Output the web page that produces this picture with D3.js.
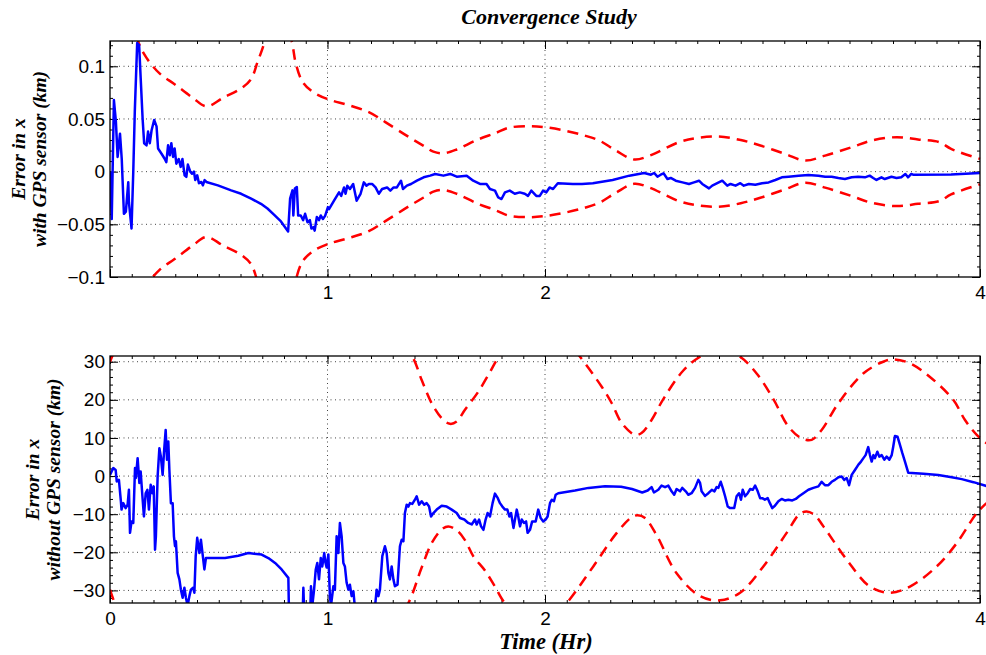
<!DOCTYPE html>
<html>
<head>
<meta charset="utf-8">
<script src="https://cdn.jsdelivr.net/npm/d3@7"></script>
<style>
  body { margin: 0; background: #fff; }
  .tick text { font-family: 'Liberation Sans', Arial, sans-serif; font-size: 19px; fill: #000; }
  .tick line { stroke: #000; }
  .lbl { font-family: 'Liberation Serif', 'Times New Roman', serif; font-weight: bold; font-style: italic; fill: #000; }
</style>
</head>
<body>
<svg id="chart" width="986" height="655"></svg>
<script>
// ---- data: [time (hr), value] ----
const xTicks = [0, 1, 2, 4]
const topYTicks = [-0.1, -0.05, 0, 0.05, 0.1]
const topYLabels = ['\u22120.1', '\u22120.05', '0', '0.05', '0.1']
const botYTicks = [-30, -20, -10, 0, 10, 20, 30]
const botYLabels = ['\u221230', '\u221220', '\u221210', '0', '10', '20', '30']

// error in x with GPS sensor (km)
const topError = [
  [0.000, 0.000], [0.008, -0.045], [0.018, 0.068], [0.027, 0.048], [0.035, 0.014], [0.046, 0.036],
  [0.054, 0.012], [0.064, -0.040], [0.073, -0.038], [0.084, -0.010], [0.087, -0.029], [0.099, -0.054],
  [0.107, 0.000], [0.114, 0.057], [0.125, 0.122], [0.134, 0.120], [0.141, 0.089], [0.150, 0.050],
  [0.157, 0.027], [0.168, 0.025], [0.175, 0.038], [0.183, 0.027], [0.191, 0.039], [0.203, 0.049],
  [0.214, 0.043], [0.221, 0.022], [0.237, 0.017], [0.252, 0.012], [0.259, 0.009], [0.267, 0.025],
  [0.275, 0.0155], [0.282, 0.027], [0.290, 0.014], [0.297, 0.022], [0.305, 0.0076], [0.316, 0.012],
  [0.325, 0.0045], [0.333, 0.012], [0.343, -0.0035], [0.351, -0.005], [0.358, 0.0067], [0.369, 0.000],
  [0.377, -0.002], [0.386, 0.000], [0.392, -0.008], [0.401, -0.0035], [0.409, -0.011], [0.420, -0.0098],
  [0.427, -0.013], [0.435, -0.008], [0.443, -0.0098], [0.496, -0.013], [0.557, -0.0178], [0.603, -0.021],
  [0.649, -0.0257], [0.694, -0.0305], [0.724, -0.035], [0.755, -0.041], [0.786, -0.0473], [0.819, -0.0568],
  [0.828, -0.0257], [0.839, -0.0178], [0.843, -0.0416], [0.850, -0.016], [0.859, -0.0146], [0.865, -0.0416],
  [0.877, -0.0416], [0.888, -0.046], [0.897, -0.040], [0.908, -0.048], [0.919, -0.046], [0.926, -0.054],
  [0.935, -0.0527], [0.941, -0.056], [0.951, -0.043], [0.961, -0.046], [0.969, -0.0416], [0.979, -0.045],
  [0.989, -0.042], [1.002, -0.0337], [1.007, -0.0356], [1.030, -0.0276], [1.053, -0.0197], [1.063, -0.023],
  [1.076, -0.015], [1.083, -0.021], [1.091, -0.0133], [1.103, -0.0165], [1.118, -0.0117], [1.134, -0.0276],
  [1.152, -0.021], [1.167, -0.0102], [1.179, -0.0133], [1.190, -0.0117], [1.205, -0.0117], [1.221, -0.015],
  [1.236, -0.021], [1.251, -0.0165], [1.274, -0.015], [1.289, -0.018], [1.304, -0.015], [1.319, -0.015],
  [1.338, -0.0086], [1.347, -0.0165], [1.365, -0.0133], [1.384, -0.0117], [1.411, -0.0086], [1.442, -0.0054],
  [1.472, -0.0038], [1.495, -0.0022], [1.533, -0.0038], [1.564, -0.0022], [1.594, -0.0048], [1.640, -0.0038],
  [1.670, -0.0086], [1.701, -0.0117], [1.731, -0.0117], [1.747, -0.0165], [1.770, -0.018], [1.785, -0.0245],
  [1.800, -0.026], [1.816, -0.0197], [1.838, -0.018], [1.861, -0.021], [1.884, -0.0197], [1.907, -0.021],
  [1.922, -0.023], [1.937, -0.018], [1.960, -0.023], [1.976, -0.023], [1.991, -0.018], [2.006, -0.0197],
  [2.021, -0.015], [2.037, -0.0165], [2.059, -0.011], [2.128, -0.0117], [2.170, -0.0117], [2.220, -0.011],
  [2.311, -0.0079], [2.388, -0.0038], [2.456, -0.0013], [2.487, -0.0029], [2.502, -0.0013], [2.517, -0.0048],
  [2.532, -0.0029], [2.545, -0.0016], [2.563, -0.007], [2.578, -0.006], [2.601, -0.0086], [2.632, -0.0102],
  [2.662, -0.0117], [2.685, -0.0102], [2.708, -0.0086], [2.723, -0.0117], [2.754, -0.0159], [2.769, -0.0133],
  [2.792, -0.011], [2.815, -0.0086], [2.838, -0.0133], [2.853, -0.0117], [2.876, -0.0133], [2.898, -0.011],
  [2.914, -0.0133], [2.937, -0.0117], [2.967, -0.0124], [2.998, -0.011], [3.028, -0.0102], [3.059, -0.0079],
  [3.089, -0.0054], [3.120, -0.0048], [3.166, -0.0038], [3.211, -0.0032], [3.257, -0.0038], [3.288, -0.0048],
  [3.318, -0.0048], [3.349, -0.006], [3.379, -0.007], [3.410, -0.0054], [3.440, -0.0048], [3.471, -0.0054],
  [3.493, -0.0038], [3.509, -0.006], [3.524, -0.0079], [3.547, -0.0054], [3.562, -0.007], [3.593, -0.0048],
  [3.616, -0.006], [3.638, -0.0054], [3.657, -0.0022], [3.669, -0.0054], [3.684, -0.0022], [3.692, -0.0029],
  [3.867, -0.0026], [4.000, -0.0012]
]

// 3-sigma bound with GPS (drawn as +/-)
const topBound = [
  [0.08, 0.18], [0.130, 0.1235], [0.168, 0.108], [0.229, 0.093], [0.297, 0.083], [0.381, 0.070],
  [0.443, 0.062], [0.519, 0.070], [0.603, 0.079], [0.649, 0.088], [0.679, 0.1045], [0.706, 0.120],
  [0.77, 0.17], [0.836, 0.1235], [0.854, 0.103], [0.885, 0.0854], [0.930, 0.076], [0.998, 0.069],
  [1.098, 0.063], [1.190, 0.0565], [1.266, 0.047], [1.373, 0.033], [1.442, 0.0245], [1.487, 0.019],
  [1.533, 0.0174], [1.594, 0.021], [1.686, 0.030], [1.777, 0.037], [1.831, 0.0416], [1.922, 0.0432],
  [1.999, 0.0422], [2.090, 0.039], [2.182, 0.0343], [2.250, 0.0295], [2.326, 0.020], [2.410, 0.0115],
  [2.479, 0.015], [2.616, 0.028], [2.700, 0.032], [2.799, 0.0333], [2.900, 0.030], [2.990, 0.0248],
  [3.104, 0.0168], [3.196, 0.0105], [3.288, 0.0152], [3.410, 0.0232], [3.501, 0.0295], [3.616, 0.0327],
  [3.715, 0.0305], [3.814, 0.0279], [3.867, 0.0216], [4.000, 0.0121]
]

// error in x without GPS sensor (km)
const botError = [
  [0.000, 0.3], [0.015, 2.1], [0.026, 1.6], [0.031, -1.4], [0.041, -1.0], [0.050, -6.6], [0.053, -8.8],
  [0.061, -7.1], [0.072, -8.4], [0.081, -7.5], [0.087, -3.6], [0.092, -14.9], [0.099, -11.9], [0.107, -12.3],
  [0.115, 2.1], [0.119, -0.5], [0.127, 4.7], [0.135, -1.8], [0.141, 1.2], [0.149, -5.3], [0.156, -10.6],
  [0.164, -4.5], [0.172, -3.6], [0.179, -8.8], [0.187, -2.3], [0.195, -4.5], [0.201, -2.7], [0.207, -19.3],
  [0.211, -15.8], [0.219, -0.1], [0.227, 7.3], [0.234, 5.1], [0.242, 0.3], [0.248, 6.0], [0.256, 12.1],
  [0.262, 4.3], [0.268, 9.1], [0.273, 1.6], [0.280, -7.1], [0.288, -7.1], [0.294, -15.8], [0.299, -18.4],
  [0.303, -17.1], [0.311, -25.4], [0.319, -27.1], [0.326, -29.8], [0.334, -31.9], [0.342, -29.3],
  [0.349, -31.9], [0.357, -34.0], [0.365, -31.5], [0.372, -29.8], [0.382, -29.3], [0.388, -30.6],
  [0.394, -21.0], [0.401, -16.2], [0.411, -20.2], [0.418, -16.7], [0.426, -20.6], [0.434, -24.5],
  [0.441, -21.5], [0.483, -21.5], [0.529, -21.5], [0.590, -20.9], [0.636, -20.2], [0.697, -20.6],
  [0.728, -21.5], [0.759, -22.8], [0.789, -24.5], [0.820, -26.7], [0.823, -36.0], [0.860, -40.0],
  [0.886, -36.0], [0.889, -29.3], [0.893, -36.0], [0.915, -38.0], [0.921, -35.0], [0.924, -28.9],
  [0.930, -34.0], [0.938, -30.0], [0.946, -24.5], [0.953, -22.8], [0.961, -27.1], [0.969, -21.5],
  [0.976, -23.7], [0.985, -20.2], [0.991, -22.8], [0.996, -24.0], [1.004, -20.6], [1.011, -31.5],
  [1.016, -34.0], [1.027, -28.9], [1.034, -29.8], [1.042, -15.8], [1.050, -20.2], [1.057, -12.3],
  [1.065, -15.8], [1.073, -22.8], [1.080, -23.7], [1.088, -28.0], [1.096, -29.8], [1.103, -28.5],
  [1.111, -31.5], [1.119, -30.2], [1.126, -34.5], [1.170, -40.0], [1.218, -34.5], [1.226, -29.8],
  [1.234, -31.5], [1.241, -29.8], [1.252, -21.0], [1.264, -18.4], [1.272, -20.2], [1.280, -25.4],
  [1.287, -27.1], [1.295, -23.7], [1.303, -27.1], [1.310, -28.9], [1.322, -28.5], [1.333, -18.4],
  [1.341, -16.7], [1.349, -17.1], [1.356, -9.7], [1.364, -7.5], [1.372, -8.0], [1.379, -7.1], [1.390, -7.3],
  [1.402, -6.2], [1.410, -5.3], [1.421, -7.5], [1.433, -6.6], [1.445, -7.5], [1.456, -7.1], [1.467, -8.0],
  [1.476, -10.6], [1.487, -9.7], [1.502, -8.8], [1.525, -7.8], [1.548, -8.0], [1.571, -8.8], [1.594, -9.7],
  [1.609, -11.0], [1.629, -11.4], [1.647, -12.3], [1.663, -12.7], [1.678, -11.4], [1.686, -12.7],
  [1.697, -11.4], [1.706, -13.2], [1.717, -14.1], [1.727, -11.4], [1.736, -9.7], [1.747, -10.6],
  [1.759, -7.1], [1.770, -4.6], [1.783, -5.8], [1.793, -7.1], [1.804, -8.0], [1.816, -8.8], [1.827, -8.8],
  [1.836, -10.6], [1.844, -9.7], [1.855, -13.6], [1.862, -11.4], [1.870, -8.8], [1.877, -10.6],
  [1.885, -13.2], [1.893, -11.4], [1.903, -12.3], [1.913, -11.9], [1.920, -14.9], [1.931, -14.1],
  [1.941, -11.9], [1.957, -11.9], [1.969, -8.8], [1.980, -11.0], [1.992, -11.9], [2.003, -11.4],
  [2.012, -10.6], [2.023, -7.1], [2.031, -6.2], [2.041, -6.6], [2.049, -4.9], [2.061, -4.5], [2.138, -3.8],
  [2.200, -3.1], [2.276, -2.7], [2.350, -2.8], [2.400, -3.4], [2.447, -4.3], [2.472, -3.8], [2.490, -2.9],
  [2.501, -4.3], [2.521, -3.6], [2.536, -2.5], [2.552, -2.9], [2.567, -2.5], [2.582, -4.0], [2.594, -4.9],
  [2.605, -3.4], [2.621, -4.0], [2.631, -3.1], [2.647, -4.0], [2.659, -4.9], [2.674, -4.5], [2.690, -3.1],
  [2.705, -1.0], [2.713, -1.8], [2.720, -4.0], [2.736, -5.2], [2.751, -4.5], [2.767, -3.6], [2.779, -4.0],
  [2.789, -2.9], [2.797, -3.1], [2.808, -1.5], [2.817, -3.1], [2.828, -5.3], [2.840, -8.0], [2.851, -8.4],
  [2.870, -8.4], [2.881, -5.3], [2.892, -4.5], [2.901, -6.2], [2.909, -3.6], [2.920, -5.3], [2.932, -4.5],
  [2.943, -3.4], [2.955, -3.6], [2.966, -2.5], [2.978, -4.0], [2.989, -5.8], [2.999, -5.8], [3.011, -6.2],
  [3.024, -5.8], [3.034, -7.1], [3.045, -8.4], [3.057, -7.8], [3.073, -6.6], [3.088, -6.0], [3.103, -6.4],
  [3.119, -6.2], [3.137, -6.4], [3.153, -6.0], [3.168, -5.3], [3.188, -4.5], [3.211, -3.6], [3.234, -3.1],
  [3.257, -2.7], [3.272, -1.5], [3.287, -2.4], [3.303, -2.4], [3.318, -1.5], [3.333, -1.0], [3.349, -0.3],
  [3.364, -0.1], [3.376, -1.0], [3.387, -0.5], [3.398, -2.4], [3.410, 0.3], [3.425, 1.6], [3.441, 3.0],
  [3.453, 3.8], [3.464, 4.7], [3.474, 5.5], [3.486, 7.6], [3.494, 5.5], [3.502, 3.8], [3.510, 5.5],
  [3.517, 4.7], [3.528, 6.4], [3.537, 5.1], [3.548, 5.5], [3.560, 4.3], [3.571, 5.1], [3.583, 4.3],
  [3.594, 5.5], [3.601, 7.7], [3.609, 10.5], [3.621, 10.3], [3.632, 8.2], [3.643, 6.0], [3.655, 3.8],
  [3.670, 0.9], [3.740, 0.6], [3.808, 0.3], [3.870, -0.3], [3.916, -0.8], [3.970, -1.6], [4.030, -2.6]
]

// 3-sigma bounds without GPS
const botUpper = [
  [0.000, 30.0], [0.010, 31.4], [0.040, 36.0], [0.200, 55.0], [0.600, 70.0], [1.000, 60.0], [1.250, 42.0],
  [1.330, 35.0], [1.390, 31.3], [1.433, 25.2], [1.479, 19.1], [1.525, 15.2], [1.563, 13.7], [1.594, 14.3],
  [1.632, 17.4], [1.693, 22.1], [1.747, 27.3], [1.785, 31.0], [1.850, 35.0], [1.970, 38.0], [2.100, 35.5],
  [2.161, 31.3], [2.260, 23.5], [2.307, 19.1], [2.353, 13.9], [2.414, 10.8], [2.444, 11.3], [2.490, 14.7],
  [2.544, 20.2], [2.636, 27.7], [2.713, 31.3], [2.805, 33.5], [2.897, 31.3], [2.973, 26.9], [3.050, 20.2],
  [3.119, 13.0], [3.180, 9.9], [3.226, 9.5], [3.272, 12.1], [3.349, 19.1], [3.463, 26.9], [3.555, 30.0],
  [3.601, 30.6], [3.678, 29.6], [3.770, 26.0], [3.877, 20.0], [3.931, 14.7], [3.985, 10.8], [4.030, 8.6]
]
const botLower = [
  [0.000, -29.8], [0.010, -31.5], [0.040, -36.0], [0.200, -55.0], [0.600, -70.0], [1.000, -60.0],
  [1.250, -42.0], [1.330, -36.5], [1.372, -33.3], [1.433, -24.0], [1.479, -17.6], [1.525, -14.0],
  [1.555, -13.2], [1.594, -14.2], [1.632, -16.8], [1.670, -21.0], [1.724, -24.8], [1.770, -29.0],
  [1.816, -33.3], [1.900, -37.0], [1.980, -38.0], [2.050, -36.0], [2.100, -33.3], [2.222, -23.7],
  [2.330, -14.9], [2.398, -10.8], [2.425, -10.3], [2.460, -11.0], [2.513, -15.5], [2.605, -25.5],
  [2.713, -31.5], [2.805, -32.6], [2.897, -30.6], [3.004, -23.7], [3.111, -14.9], [3.170, -10.0],
  [3.203, -9.3], [3.240, -10.2], [3.280, -13.2], [3.387, -21.9], [3.494, -29.0], [3.586, -30.6],
  [3.678, -29.0], [3.801, -23.7], [3.893, -17.6], [3.985, -9.7], [4.030, -7.1]
]

const svg = d3.select('#chart')
const defs = svg.append('defs')

function drawPanel(opt){
  const { x, y, id } = opt
  const [x0, x1] = x.range()
  const [y1, y0] = y.range()
  const g = svg.append('g')

  defs.append('clipPath').attr('id', id)
    .append('rect')
    .attr('x', x0).attr('y', y0)
    .attr('width', 986 - x0).attr('height', y1 - y0)

  // dotted grid
  g.append('g').selectAll('line')
    .data(opt.yTicks.filter(d => y(d) > y0 + 1 && y(d) < y1 - 1))
    .join('line')
    .attr('x1', x0).attr('x2', x1)
    .attr('y1', d => y(d)).attr('y2', d => y(d))
    .attr('stroke', '#444').attr('stroke-width', 1).attr('stroke-dasharray', '1,3.5')
  g.append('g').selectAll('line')
    .data(xTicks.filter(d => x(d) > x0 + 1 && x(d) < x1 - 1))
    .join('line')
    .attr('x1', d => x(d)).attr('x2', d => x(d))
    .attr('y1', y0).attr('y2', y1)
    .attr('stroke', '#444').attr('stroke-width', 1).attr('stroke-dasharray', '1,3.5')

  // ticks on all four sides, pointing in
  const noDomain = a => a.select('.domain').remove()
  g.append('g').attr('transform', `translate(${x0},0)`)
    .call(d3.axisLeft(y).tickValues(opt.yTicks).tickSize(-8).tickPadding(5)
      .tickFormat((d, i) => opt.yLabels[i]))
    .call(noDomain)
  g.append('g').attr('transform', `translate(${x1},0)`)
    .call(d3.axisRight(y).tickValues(opt.yTicks).tickSize(-8).tickFormat(''))
    .call(noDomain)
  g.append('g').attr('transform', `translate(0,${y1})`)
    .call(d3.axisBottom(x).tickValues(xTicks).tickSize(-8).tickPadding(9)
      .tickFormat(d => (opt.hideZero && d === 0) ? '' : d))
    .call(noDomain)
  g.append('g').attr('transform', `translate(0,${y0})`)
    .call(d3.axisTop(x).tickValues(xTicks).tickSize(-8).tickFormat(''))
    .call(noDomain)

  // minor ticks
  const yMinorVals = d3.range(Math.ceil(y.domain()[0] / opt.yMinorStep), Math.floor(y.domain()[1] / opt.yMinorStep) + 1)
    .map(k => k * opt.yMinorStep)
  const xMinorVals = d3.range(0, 41).map(k => k * 0.1)
  g.append('g').attr('transform', `translate(${x0},0)`)
    .call(d3.axisLeft(y).tickValues(yMinorVals).tickSize(-3).tickFormat('')).call(noDomain)
  g.append('g').attr('transform', `translate(${x1},0)`)
    .call(d3.axisRight(y).tickValues(yMinorVals).tickSize(-3).tickFormat('')).call(noDomain)
  g.append('g').attr('transform', `translate(0,${y1})`)
    .call(d3.axisBottom(x).tickValues(xMinorVals).tickSize(-3).tickFormat('')).call(noDomain)
  g.append('g').attr('transform', `translate(0,${y0})`)
    .call(d3.axisTop(x).tickValues(xMinorVals).tickSize(-3).tickFormat('')).call(noDomain)

  // series
  const plot = g.append('g').attr('clip-path', `url(#${id})`)
  const bound = d3.line().x(d => x(d[0])).y(d => y(d[1])).curve(d3.curveCatmullRom.alpha(0.5))
  opt.bounds.forEach(b => {
    plot.append('path')
      .attr('d', bound(b))
      .attr('fill', 'none')
      .attr('stroke', '#ff0000')
      .attr('stroke-width', 2.5)
      .attr('stroke-dasharray', '11,7')
  })
  plot.append('path')
    .attr('d', d3.line().x(d => x(d[0])).y(d => y(d[1]))(opt.err))
    .attr('fill', 'none')
    .attr('stroke', '#0000ff')
    .attr('stroke-width', 2.5)
    .attr('stroke-linejoin', 'round')

  // box
  g.append('rect')
    .attr('x', x0).attr('y', y0)
    .attr('width', x1 - x0).attr('height', y1 - y0)
    .attr('fill', 'none').attr('stroke', '#000').attr('stroke-width', 1.3)

  // y label, two lines
  opt.yTitle.forEach((t, i) => {
    g.append('text')
      .attr('class', 'lbl')
      .attr('transform', `translate(${opt.yTitleX[i]},${(y0 + y1) / 2}) rotate(-90)`)
      .attr('text-anchor', 'middle')
      .attr('font-size', 19.5)
      .text(t)
  })
}

drawPanel({
  id: 'clip-top',
  x: d3.scaleLinear().domain([0, 4]).range([110, 980]),
  y: d3.scaleLinear().domain([-0.1, 0.124]).range([277, 41]),
  yTicks: topYTicks,
  yLabels: topYLabels,
  yMinorStep: 0.01,
  hideZero: true,
  err: topError,
  bounds: [topBound, topBound.map(d => [d[0], -d[1]])],
  yTitle: ['Error in x', 'with GPS sensor (km)'],
  yTitleX: [25, 46]
})

drawPanel({
  id: 'clip-bot',
  x: d3.scaleLinear().domain([0, 4]).range([110, 980]),
  y: d3.scaleLinear().domain([-33.3, 31.5]).range([603, 356]),
  yTicks: botYTicks,
  yLabels: botYLabels,
  yMinorStep: 2,
  hideZero: false,
  err: botError,
  bounds: [botUpper, botLower],
  yTitle: ['Error in x', 'without GPS sensor (km)'],
  yTitleX: [39, 60]
})

svg.append('text')
  .attr('class', 'lbl')
  .attr('x', 549).attr('y', 24)
  .attr('text-anchor', 'middle')
  .attr('font-size', 22)
  .text('Convergence Study')

svg.append('text')
  .attr('class', 'lbl')
  .attr('x', 546).attr('y', 649)
  .attr('text-anchor', 'middle')
  .attr('font-size', 22.5)
  .text('Time (Hr)')
</script>
</body>
</html>
